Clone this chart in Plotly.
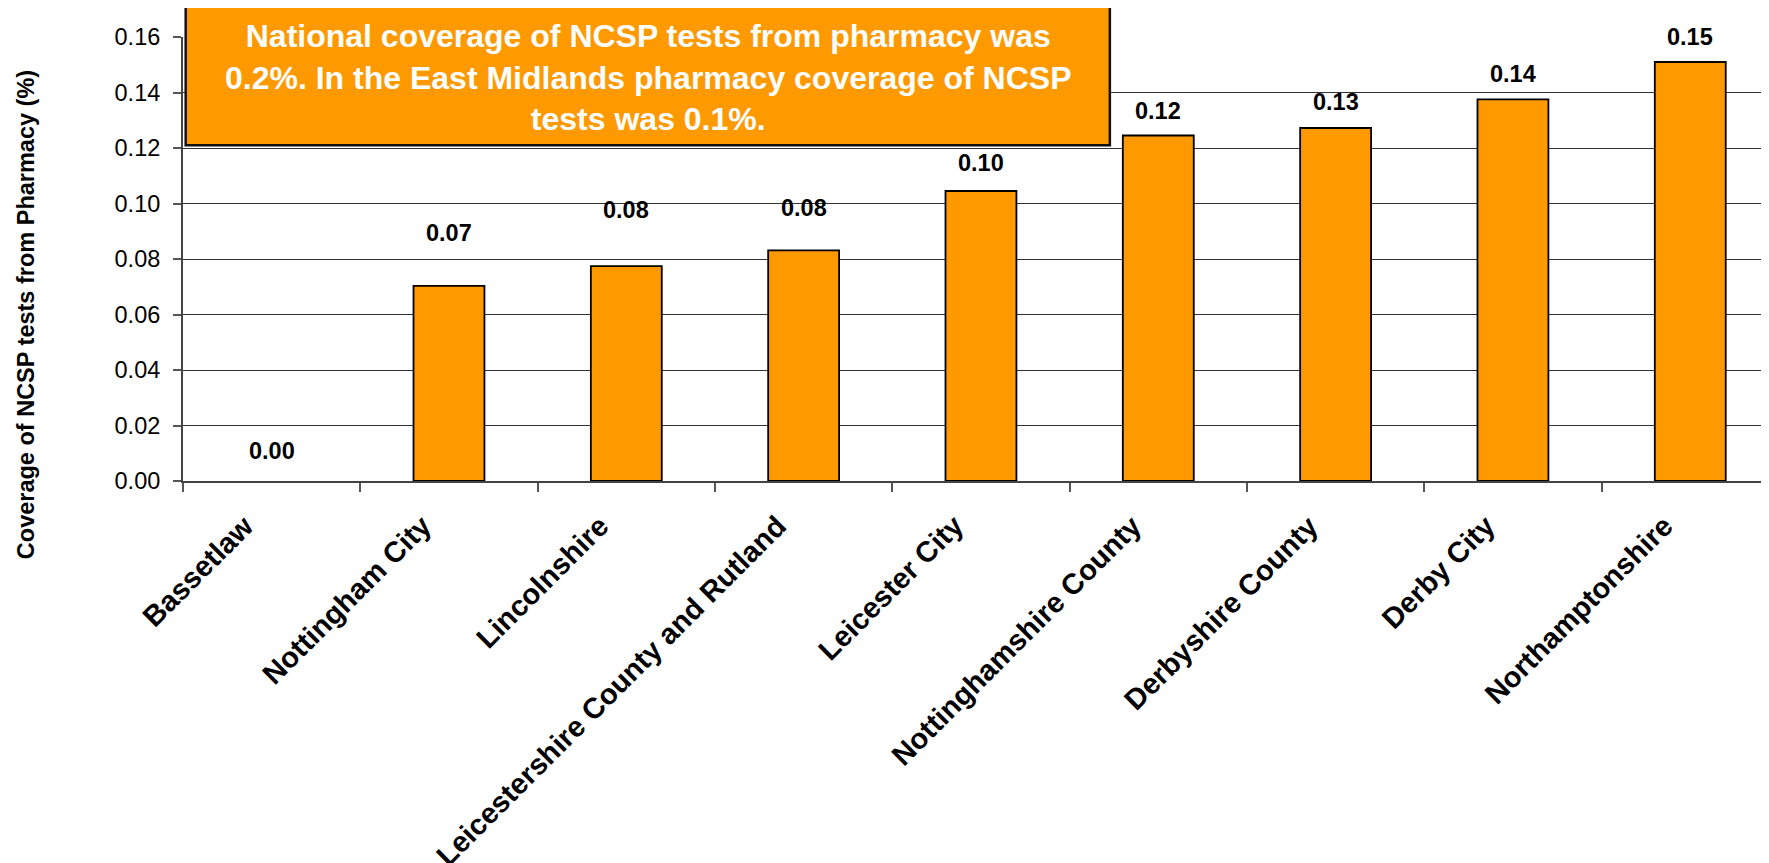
import plotly.graph_objects as go

categories = ["Bassetlaw", "Nottingham City", "Lincolnshire", "Leicestershire County and Rutland",
              "Leicester City", "Nottinghamshire County", "Derbyshire County", "Derby City", "Northamptonshire"]
values = [0.0, 0.0703, 0.0774, 0.0831, 0.1045, 0.1245, 0.1272, 0.1375, 0.1510]
y_ticks = [0.00, 0.02, 0.04, 0.06, 0.08, 0.10, 0.12, 0.14, 0.16]
note_text = ("National coverage of NCSP tests from pharmacy was<br>"
             "0.2%. In the East Midlands pharmacy coverage of NCSP<br>"
             "tests was 0.1%.")
y_title = "Coverage of NCSP tests from Pharmacy (%)"

# style: vertical pixel offsets of value labels above bars
label_shift = [30, 53, 56, 42, 28, 25, 26, 25, 25]

FONT = "Liberation Sans, Arial, sans-serif"
ORANGE = "#FF9900"

fig = go.Figure()
fig.add_trace(go.Bar(
    x=categories, y=values,
    marker=dict(color=ORANGE,
                line=dict(color="#000000", width=[0 if v == 0 else 1.8 for v in values])),
    width=0.4, hoverinfo="skip",
))

annotations = []
for c, v, s in zip(categories, values, label_shift):
    annotations.append(dict(
        x=c, y=v, xref="x", yref="y", text=f"<b>{v:.2f}</b>", showarrow=False,
        yanchor="middle", xanchor="center", yshift=s,
        font=dict(family=FONT, size=23.5, color="#000000"),
    ))

# category labels (rotated)
for c in categories:
    annotations.append(dict(
        x=c, y=0, xref="x", yref="paper", text=f"<b>{c}</b>", showarrow=False,
        textangle=-45, xanchor="right", yanchor="top", xshift=-9, yshift=-26,
        font=dict(family=FONT, size=29, color="#000000"),
    ))

annotations.append(dict(
    x=-0.0992, y=0.375, xref="paper", yref="paper", text=f"<b>{y_title}</b>",
    textangle=-90, showarrow=False, xanchor="center", yanchor="middle",
    font=dict(family=FONT, size=23.5, color="#000000"),
))

annotations.append(dict(
    x=0.293, y=0.9099, xref="paper", yref="paper", text=f"<b>{note_text}</b>",
    showarrow=False, xanchor="center", yanchor="middle", align="center",
    font=dict(family=FONT, size=32, color="#FFFFFF"),
))

fig.update_layout(
    width=1761, height=855,
    margin=dict(l=175, r=0, t=29, b=382, pad=0),
    paper_bgcolor="white", plot_bgcolor="white",
    showlegend=False,
    annotations=annotations,
    shapes=[dict(type="rect", xref="paper", yref="paper",
                 x0=0.0017, x1=0.5844, y0=0.756, y1=1.0727,
                 fillcolor=ORANGE, line=dict(color="#111111", width=2.5), layer="above")],
    xaxis=dict(
        range=[-0.5, 8.444], type="category",
        showline=True, linecolor="#444444", linewidth=2,
        ticks="outside", tickson="boundaries", ticklen=9, tickwidth=2, tickcolor="#555555",
        showticklabels=False, showgrid=False, zeroline=False,
    ),
    yaxis=dict(
        range=[0, 0.16], tickvals=y_ticks, tickformat=".2f",
        showline=True, linecolor="#444444", linewidth=2,
        ticks="outside", ticklen=8, tickwidth=2, tickcolor="#555555",
        showgrid=True, gridcolor="#333333", gridwidth=1.3, zeroline=False,
        tickfont=dict(family=FONT, size=23.5, color="#000000"),
        ticklabelstandoff=8,
    ),
)

fig.write_html("out.html")
